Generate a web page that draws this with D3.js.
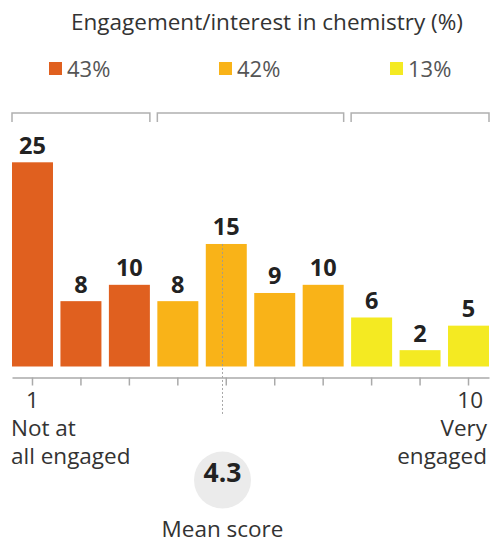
<!DOCTYPE html>
<html><head><meta charset="utf-8">
<script src="https://cdn.jsdelivr.net/npm/d3@7"></script>
<style>body{margin:0;background:#fff}svg{display:block}</style>
</head><body>
<svg id="c" width="490" height="544"></svg>
<script>
const title = "Engagement/interest in chemistry (%)";
const categories = ["1","2","3","4","5","6","7","8","9","10"];
const values = [25, 8, 10, 8, 15, 9, 10, 6, 2, 5];
const groupOf = [0,0,0,1,1,1,1,2,2,2];
const groupLabels = ["43%", "42%", "13%"];
const groupColors = ["#e0601f", "#f9b318", "#f4ea22"];
const meanScore = "4.3";
const meanLabel = "Mean score";
const lowLabel = ["Not at", "all engaged"];
const highLabel = ["Very", "engaged"];

const font = "'Open Sans', sans-serif";
const fs = 22.5;
const svg = d3.select("#c");
const x = d3.scaleBand().domain(categories).range([12, 489]).paddingInner(0.154).paddingOuter(0);
const y = d3.scaleLinear().domain([0, 25]).range([366.5, 162.3]);

// title
svg.append("text").attr("x", 267).attr("y", 30).attr("text-anchor", "middle")
  .attr("font-family", font).attr("font-size", fs).attr("fill", "#333").text(title);

// legend
const legX = [49, 219, 390];
groupLabels.forEach((g, i) => {
  svg.append("rect").attr("x", legX[i]).attr("y", 62).attr("width", 13).attr("height", 13).attr("fill", groupColors[i]);
  svg.append("text").attr("x", legX[i] + 18).attr("y", 76.5).attr("font-family", font).attr("font-size", 22)
    .attr("fill", "#555").text(g);
});

// brackets
const groups = d3.groups(categories.map((c, i) => ({c, g: groupOf[i]})), d => d.g);
groups.forEach(([g, items]) => {
  const x0 = x(items[0].c), x1 = x(items[items.length - 1].c) + x.bandwidth();
  svg.append("path").attr("d", `M${x0},122V113H${x1}V122`).attr("fill", "none")
    .attr("stroke", "#b0b0b0").attr("stroke-width", 1.5);
});

// bars
svg.append("g").selectAll("rect").data(values).join("rect")
  .attr("x", (d, i) => x(categories[i])).attr("width", x.bandwidth())
  .attr("y", d => y(d)).attr("height", d => y(0) - y(d))
  .attr("fill", (d, i) => groupColors[groupOf[i]]);

// value labels
svg.append("g").selectAll("text").data(values).join("text")
  .attr("x", (d, i) => x(categories[i]) + x.bandwidth() / 2).attr("y", d => y(d) - 8.5)
  .attr("text-anchor", "middle").attr("font-family", font).attr("font-weight", "bold")
  .attr("font-size", 23.5).attr("fill", "#222").text(d => d);

// mean dashed line
const meanX = 222.5;
svg.append("line").attr("x1", meanX).attr("x2", meanX).attr("y1", y(values[4])).attr("y2", 416)
  .attr("stroke", "#999").attr("stroke-width", 1).attr("stroke-dasharray", "2,2").attr("opacity", 0.85);

// axis
const axis = d3.axisBottom(x).tickSize(8).tickFormat("").tickSizeOuter(0);
const ax = svg.append("g").attr("transform", "translate(0,377.5)").call(axis);
ax.select(".domain").attr("stroke", "#aaa").attr("stroke-width", 1.5);
ax.selectAll(".tick line").attr("stroke", "#aaa").attr("stroke-width", 1.5);

// end labels
svg.append("text").attr("x", x("1") + x.bandwidth() / 2).attr("y", 408).attr("text-anchor", "middle")
  .attr("font-family", font).attr("font-size", fs).attr("fill", "#333").text(categories[0]);
svg.append("text").attr("x", 483).attr("y", 408).attr("text-anchor", "end")
  .attr("font-family", font).attr("font-size", fs).attr("fill", "#333").text(categories[9]);
lowLabel.forEach((t, i) => svg.append("text").attr("x", 11).attr("y", 436 + i * 28)
  .attr("font-family", font).attr("font-size", fs).attr("fill", "#333").text(t));
highLabel.forEach((t, i) => svg.append("text").attr("x", 487).attr("y", 436 + i * 28).attr("text-anchor", "end")
  .attr("font-family", font).attr("font-size", fs).attr("fill", "#333").text(t));

// mean circle
svg.append("circle").attr("cx", meanX).attr("cy", 480).attr("r", 28.5).attr("fill", "#ebebeb");
svg.append("text").attr("x", meanX).attr("y", 482).attr("text-anchor", "middle")
  .attr("font-family", font).attr("font-weight", "bold").attr("font-size", 26.5).attr("fill", "#222").text(meanScore);
svg.append("text").attr("x", meanX).attr("y", 537).attr("text-anchor", "middle")
  .attr("font-family", font).attr("font-size", fs).attr("fill", "#333").text(meanLabel);
</script>
</body></html>
